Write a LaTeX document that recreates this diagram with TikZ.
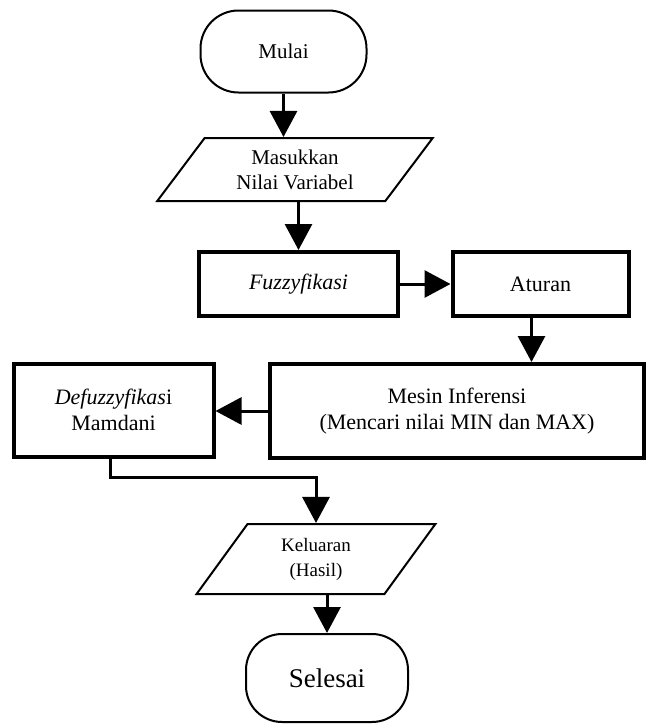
\documentclass[tikz,border=0pt]{standalone}
\usepackage{fontspec}
\setmainfont{Liberation Serif}
\usetikzlibrary{shapes,positioning,calc}
\usetikzlibrary{shapes.geometric, arrows}
\usetikzlibrary{arrows.meta}
\tikzstyle{terminal} = [rectangle, rounded corners=19pt, draw=black, line width=1pt, text centered]
\tikzstyle{proses} = [rectangle, draw=black, line width=2pt, text centered, align=center, font=\fontsize{11}{13}\selectfont]
\tikzstyle{data} = [trapezium, trapezium left angle=60, trapezium right angle=120, trapezium stretches=true, draw=black, line width=1pt, align=center, inner xsep=0pt]
\tikzstyle{arrow} = [line width=1.5pt, -{Triangle[length=13pt, width=13.5pt]}]

\begin{document}
\begin{tikzpicture}[x=0.5pt, y=-0.5pt]
						\useasboundingbox (0,0) rectangle (649,724);
						\node (mulai) at (283.5,51.5) [terminal, minimum width=83pt, minimum height=41pt, font=\fontsize{10.5}{13}\selectfont] {Mulai};
						\node (masukkan) at (295,169.5) [data, minimum width=139pt, minimum height=31.5pt, font=\fontsize{10.5}{12.5}\selectfont] {Masukkan\\Nilai Variabel};
						\node (fuzzy) at (298.5,284) [proses, minimum width=99.5pt, minimum height=32pt] {\textit{Fuzzyfikasi}};
						\node (aturan) at (540.5,284) [proses, minimum width=88pt, minimum height=32pt] {Aturan};
						\node (mesin) at (457,411) [proses, minimum width=187pt, minimum height=47pt] {Mesin Inferensi\\(Mencari nilai MIN dan MAX)};
						\node (defuzz) at (113.5,410) [proses, minimum width=100pt, minimum height=46.5pt] {\textit{Defuzzyfikas}i\\Mamdani};
						\node (keluaran) at (316,559) [data, trapezium left angle=65, trapezium right angle=115, minimum width=120pt, minimum height=35pt, font=\fontsize{9.5}{12.5}\selectfont] {Keluaran\\(Hasil)};
						\node (selesai) at (327,678) [terminal, rounded corners=18pt, minimum width=81pt, minimum height=44pt, font=\fontsize{13.5}{16}\selectfont] {Selesai};
						\coordinate (belok) at (110,477);
						\draw[arrow] (mulai.south) -- (mulai.south |- masukkan.north);
						\draw[arrow] (fuzzy.north |- masukkan.south) -- (fuzzy.north);
						\draw[arrow] (fuzzy) -- (aturan);
						\draw[arrow] ([xshift=-4.5pt]aturan.south) -- ([xshift=-4.5pt]aturan.south |- mesin.north);
						\draw[arrow] (mesin.west) -- (mesin.west -| defuzz.east);
						\draw[arrow] (defuzz.south -| belok) -- (belok) -| (keluaran.north);
						\draw[arrow] (keluaran.south -| selesai.north) -- (selesai.north);
					\end{tikzpicture}
\end{document}
